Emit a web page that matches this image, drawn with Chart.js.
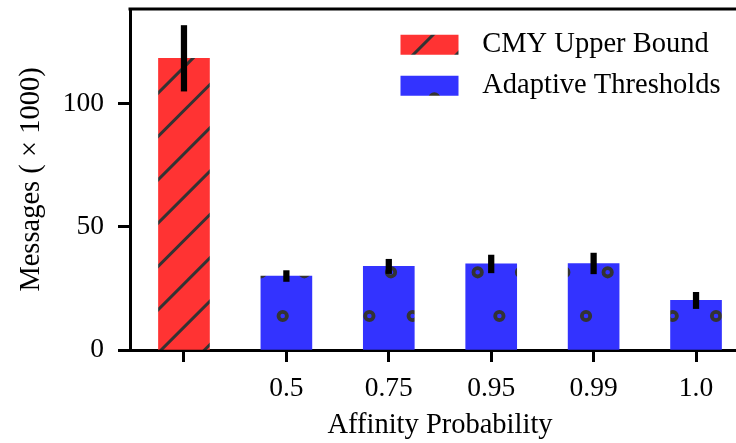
<!DOCTYPE html>
<html>
<head>
<meta charset="utf-8">
<script src="https://cdn.jsdelivr.net/npm/chart.js@4.4.1/dist/chart.umd.min.js"></script>
<style>
  html, body { margin: 0; padding: 0; background: #ffffff; overflow: hidden; }
  #wrap { width: 752px; height: 443px; }
  canvas { display: block; }
</style>
</head>
<body>
<div id="wrap"><canvas id="c" width="752" height="443"></canvas></div>
<script>
// ---- data ----
const categories = ['', '0.5', '0.75', '0.95', '0.99', '1.0'];
const cmyLabel = 'CMY Upper Bound';
const adaptiveLabel = 'Adaptive Thresholds';
const cmyValues = [118.3];
const cmyErr = [13.3];
const adaptiveValues = [30.0, 33.9, 34.9, 35.1, 20.1];
const adaptiveErr = [2.2, 2.9, 3.6, 4.2, 3.3];
const yTicks = [0, 50, 100];

// ---- hatch patterns (aligned to canvas origin) ----
const ctx = document.getElementById('c').getContext('2d');
function stripePattern() {
  const t = document.createElement('canvas');
  t.width = 130; t.height = 130;
  const g = t.getContext('2d');
  g.fillStyle = 'rgb(255,51,51)';
  g.fillRect(0, 0, 130, 130);
  g.strokeStyle = 'rgb(51,51,51)';
  g.lineWidth = 3;
  const s = 130 / 3;
  for (let k = -2; k <= 8; k++) {
    const c = 34.5 + k * s;
    g.beginPath();
    g.moveTo(c + 20, -20);
    g.lineTo(c - 150, 150);
    g.stroke();
  }
  return ctx.createPattern(t, 'repeat');
}
function circlePattern() {
  const t = document.createElement('canvas');
  t.width = 130; t.height = 87;
  const g = t.getContext('2d');
  g.fillStyle = 'rgb(51,51,255)';
  g.fillRect(0, 0, 130, 87);
  g.strokeStyle = 'rgb(51,51,51)';
  g.lineWidth = 3.8;
  const s = 130 / 3;
  const rows = [{ y: 55, x0: 22.7 }, { y: 11.3, x0: 1 }];
  rows.forEach(r => {
    for (let k = -1; k <= 3; k++) {
      g.beginPath();
      g.arc(r.x0 + k * s, r.y, 4.2, 0, Math.PI * 2);
      g.stroke();
    }
  });
  return ctx.createPattern(t, 'repeat');
}

const cmyData = cmyValues.map((v, i) => ({ x: i, y: v }));
const adaptiveData = adaptiveValues.map((v, i) => ({ x: i + 1, y: v }));
const errData = cmyValues.map((v, i) => ({ x: i, y: [v - cmyErr[i], v + cmyErr[i]] }))
  .concat(adaptiveValues.map((v, i) => ({ x: i + 1, y: [v - adaptiveErr[i], v + adaptiveErr[i]] })));

const topSpine = {
  id: 'topSpine',
  afterDraw(chart) {
    const a = chart.chartArea, c = chart.ctx;
    c.save();
    c.strokeStyle = '#000';
    c.lineWidth = 3;
    c.beginPath();
    c.moveTo(a.left - 1.5, a.top);
    c.lineTo(a.right + 2, a.top);
    c.stroke();
    c.restore();
  }
};
const legendPos = {
  id: 'legendPos',
  afterLayout(chart) {
    const lg = chart.legend;
    if (!lg) return;
    const w = lg.width, h = lg.height;
    lg.left = 388; lg.top = 18;
    lg.right = 388 + w; lg.bottom = 18 + h;
  }
};

const serif = 'Liberation Serif';
Chart.defaults.font.family = serif;
Chart.defaults.color = '#000';

new Chart(ctx, {
  type: 'bar',
  data: {
    datasets: [
      { label: 'err', data: errData, backgroundColor: '#000', borderWidth: 0,
        barThickness: 5.6, grouped: false, order: 0 },
      { label: cmyLabel, data: cmyData, backgroundColor: stripePattern(), borderWidth: 0,
        barThickness: 51, grouped: false, order: 1 },
      { label: adaptiveLabel, data: adaptiveData, backgroundColor: circlePattern(), borderWidth: 0,
        barThickness: 51, grouped: false, order: 2 }
    ]
  },
  options: {
    responsive: false,
    animation: false,
    layout: { autoPadding: false, padding: { left: 0, right: 2, top: 9, bottom: 0 } },
    plugins: {
      tooltip: { enabled: false },
      legend: {
        position: 'chartArea',
        align: 'start',
        labels: {
          font: { family: serif, size: 28.5 },
          color: '#000',
          boxWidth: 58,
          boxHeight: 20,
          padding: 12.5,
          textAlign: 'left',
          filter: (item) => item.text !== 'err',
          generateLabels: (chart) => Chart.defaults.plugins.legend.labels.generateLabels(chart)
            .map(it => Object.assign(it, { text: it.text === 'err' ? 'err' : '\u2004' + it.text, lineWidth: 0 }))
        }
      }
    },
    scales: {
      x: {
        type: 'linear',
        min: -0.527,
        max: 5.527,
        offset: false,
        afterBuildTicks: (s) => { s.ticks = categories.map((c, i) => ({ value: i })); },
        afterFit: (s) => { s.height = 93; s.paddingLeft = 0; s.paddingRight = 0; },
        ticks: {
          autoSkip: false, maxRotation: 0, minRotation: 0,
          padding: 10,
          font: { family: serif, size: 27.5 },
          color: '#000',
          callback: (v) => categories[v]
        },
        grid: { display: true, offset: false, drawOnChartArea: false, drawTicks: true,
                tickLength: 12, tickWidth: 3, tickColor: '#000' },
        border: { display: true, color: '#000', width: 3 },
        title: { display: true, text: 'Affinity Probability', color: '#000',
                 font: { family: serif, size: 28.5 }, padding: { top: 0, bottom: 0 } }
      },
      y: {
        type: 'linear',
        min: 0,
        max: 138.3,
        afterBuildTicks: (s) => { s.ticks = yTicks.map(v => ({ value: v })); },
        afterFit: (s) => { s.width = 130; s.paddingTop = 0; s.paddingBottom = 0; },
        ticks: { padding: 14, font: { family: serif, size: 27.5 }, color: '#000' },
        grid: { display: true, drawOnChartArea: false, drawTicks: true,
                tickLength: 12, tickWidth: 3, tickColor: '#000' },
        border: { display: true, color: '#000', width: 3 },
        title: { display: true, text: 'Messages ( \u00d7 1000)', color: '#000',
                 font: { family: serif, size: 28.5 }, padding: { top: 14.5, bottom: 0 } }
      }
    }
  },
  plugins: [topSpine, legendPos]
});
</script>
</body>
</html>
